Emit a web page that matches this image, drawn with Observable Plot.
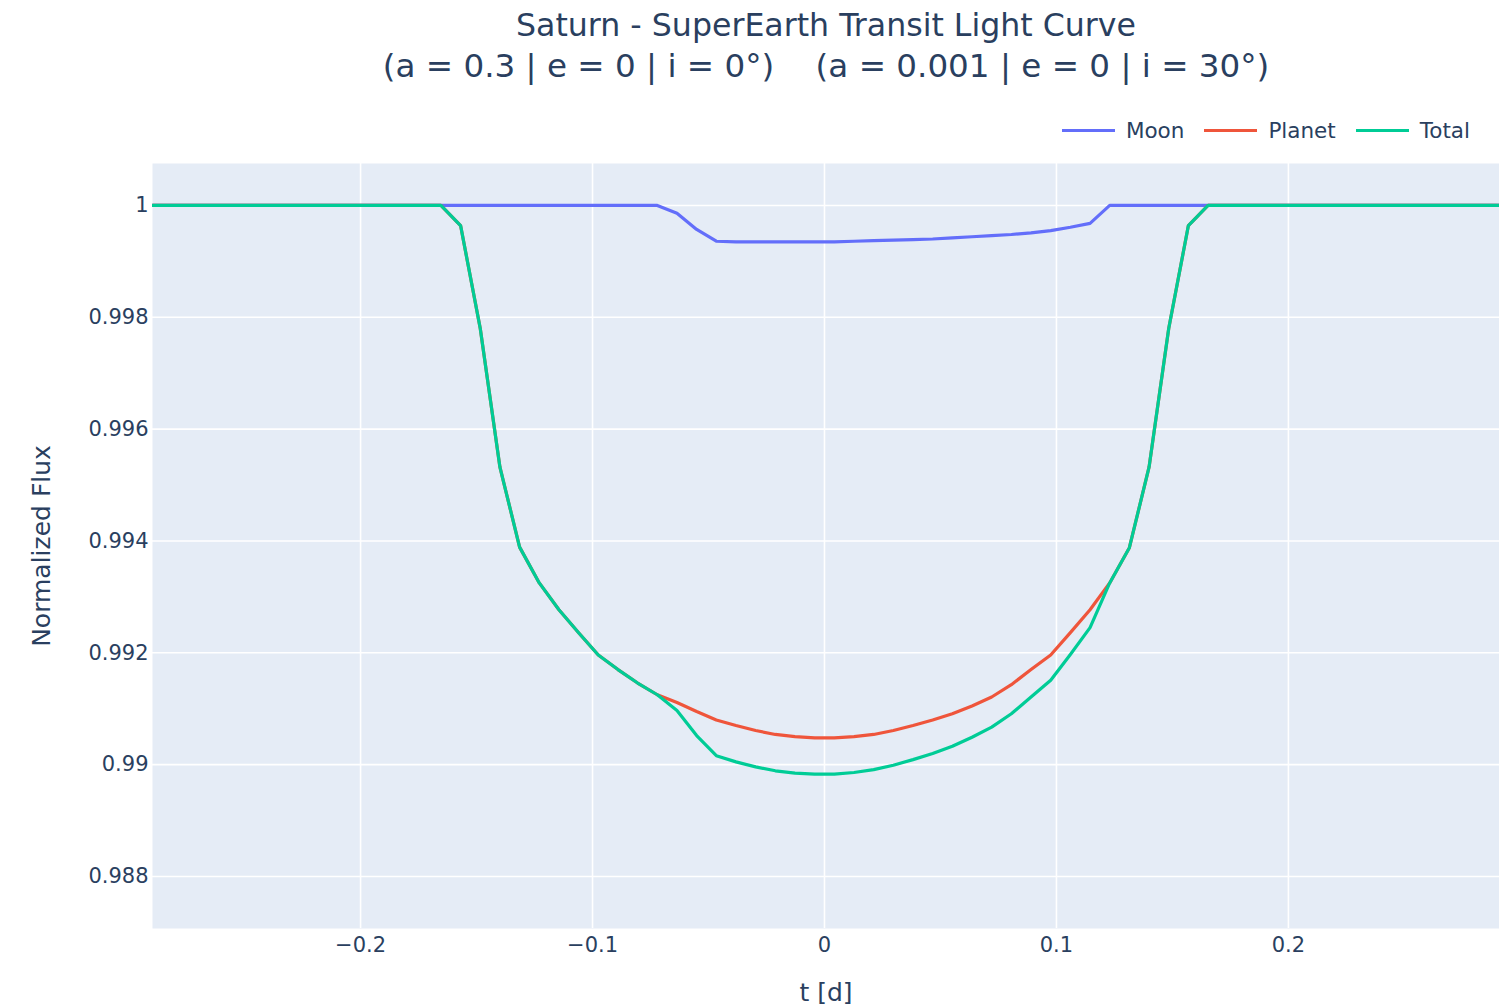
<!DOCTYPE html>
<html>
<head>
<meta charset="utf-8">
<script src="https://cdn.jsdelivr.net/npm/d3@7"></script>
<script src="https://cdn.jsdelivr.net/npm/@observablehq/plot@0.6"></script>
<style>
  html, body { margin: 0; padding: 0; background: #ffffff; }
  body { width: 1499px; height: 1007px; overflow: hidden; font-family: "DejaVu Sans", Verdana, sans-serif; color: #2a3f5f; }
  #head { position: relative; width: 1499px; height: 150px; }
  .tline { position: absolute; left: 0; width: 1652px; text-align: center; white-space: pre; }
  #legend { position: absolute; top: 120px; right: 29px; display: flex; align-items: center; font-size: 21.5px; line-height: 21px; }
  .item { display: flex; align-items: center; margin-left: 20px; }
  .sw { width: 53px; height: 3px; margin-right: 11px; }
</style>
</head>
<body>
<div id="head">
  <div class="tline" id="t1" style="top:10px; font-size:31.6px; line-height:31px"></div>
  <div class="tline" id="t2" style="top:50px; font-size:32.6px; line-height:32px"></div>
  <div id="legend"></div>
</div>
<div id="chart"></div>
<script>
// ---- data ----
const TITLE_1 = "Saturn - SuperEarth Transit Light Curve";
const TITLE_2 = "(a = 0.3 | e = 0 | i = 0°)    (a = 0.001 | e = 0 | i = 30°)";
const X_LABEL = "t [d]";
const Y_LABEL = "Normalized Flux";

const SERIES = ["Moon", "Planet", "Total"];
const COLORS = ["#636efa", "#EF553B", "#00cc96"];

const T = [-0.2897, -0.16536, -0.15688, -0.14840, -0.13992, -0.13144, -0.12296, -0.11448, -0.10600, -0.09752,
  -0.08904, -0.08056, -0.07208, -0.06360, -0.05512, -0.04664, -0.03816, -0.02968, -0.02120, -0.01272, -0.00424,
  0.00424, 0.01272, 0.02120, 0.02968, 0.03816, 0.04664, 0.05512, 0.06360, 0.07208, 0.08056,
  0.08904, 0.09752, 0.10600, 0.11448, 0.12296, 0.13144, 0.13992, 0.14840, 0.15688, 0.16536, 0.291];

const MOON = [1, 1, 1, 1, 1, 1, 1, 1, 1, 1, 1, 1, 1,
  0.99986, 0.99957, 0.99936, 0.99935, 0.99935, 0.99935, 0.99935, 0.99935,
  0.99935, 0.99936, 0.99937, 0.99938, 0.99939, 0.99940, 0.99942, 0.99944, 0.99946, 0.99948,
  0.99951, 0.99955, 0.99961, 0.99968, 1, 1, 1, 1, 1, 1, 1];

const PLANET = [1, 1.0, 0.99964, 0.99780, 0.99532, 0.99389, 0.99325, 0.99277, 0.99236, 0.99196,
  0.99170, 0.99146, 0.99125, 0.99111, 0.99095, 0.99080, 0.99070, 0.99061, 0.99054, 0.99050, 0.99048,
  0.99048, 0.99050, 0.99054, 0.99061, 0.99070, 0.99080, 0.99091, 0.99105, 0.99121, 0.99143,
  0.99170, 0.99196, 0.99236, 0.99277, 0.99325, 0.99388, 0.99532, 0.99780, 0.99964, 1.0, 1];

const TOTAL = [1, 1.0, 0.99964, 0.99780, 0.99532, 0.99389, 0.99325, 0.99277, 0.99236, 0.99196,
  0.99170, 0.99146, 0.99125, 0.99097, 0.99052, 0.99016, 0.99005, 0.98996, 0.98989, 0.98985, 0.98983,
  0.98983, 0.98986, 0.98991, 0.98999, 0.99009, 0.99020, 0.99033, 0.99049, 0.99067, 0.99091,
  0.99121, 0.99151, 0.99197, 0.99245, 0.99325, 0.99388, 0.99532, 0.99780, 0.99964, 1.0, 1];

const X_TICKS = [-0.2, -0.1, 0, 0.1, 0.2];
const X_TICK_LABELS = ["−0.2", "−0.1", "0", "0.1", "0.2"];
const Y_TICKS = [0.988, 0.990, 0.992, 0.994, 0.996, 0.998, 1.0];
const Y_TICK_LABELS = ["0.988", "0.99", "0.992", "0.994", "0.996", "0.998", "1"];
const X_DOMAIN = [-0.2897, 0.291];
const Y_DOMAIN = [0.98707, 1.00075];

// ---- titles & legend ----
document.getElementById("t1").textContent = TITLE_1;
document.getElementById("t2").textContent = TITLE_2;
const leg = document.getElementById("legend");
SERIES.forEach((s, i) => {
  const it = document.createElement("div"); it.className = "item";
  const sw = document.createElement("div"); sw.className = "sw"; sw.style.background = COLORS[i];
  const tx = document.createElement("span"); tx.textContent = s;
  it.appendChild(sw); it.appendChild(tx); leg.appendChild(it);
});

// ---- data table ----
const VALUES = [MOON, PLANET, TOTAL];
const rows = [];
SERIES.forEach((s, si) => T.forEach((t, i) => rows.push({series: s, t, flux: VALUES[si][i]})));

const chart = Plot.plot({
  width: 1499,
  height: 857,
  marginLeft: 152,
  marginRight: 0,
  marginTop: 13,
  marginBottom: 79,
  style: {fontFamily: "DejaVu Sans, Verdana, sans-serif", color: "#2a3f5f", background: "transparent"},
  x: {domain: X_DOMAIN, label: null},
  y: {domain: Y_DOMAIN, label: null},
  color: {domain: SERIES, range: COLORS},
  marks: [
    Plot.frame({fill: "#E5ECF6", stroke: null}),
    Plot.gridX(X_TICKS, {stroke: "white", strokeOpacity: 1, strokeWidth: 1.6}),
    Plot.gridY(Y_TICKS, {stroke: "white", strokeOpacity: 1, strokeWidth: 1.6}),
    Plot.axisX(X_TICKS, {tickSize: 0, tickPadding: 9, fontSize: 21, tickFormat: (d) => X_TICK_LABELS[X_TICKS.indexOf(d)], label: null}),
    Plot.axisY(Y_TICKS, {tickSize: 0, tickPadding: 4, fontSize: 21, tickFormat: (d) => Y_TICK_LABELS[Y_TICKS.indexOf(d)], label: null}),
    ...SERIES.map(s => Plot.line(rows.filter(r => r.series === s), {x: "t", y: "flux", stroke: "series", strokeWidth: 3.2, clip: true})),
    Plot.text([X_LABEL], {frameAnchor: "bottom", dy: 64, fontSize: 25, textAnchor: "middle", lineAnchor: "middle", fill: "#2a3f5f"}),
    Plot.text([Y_LABEL], {frameAnchor: "left", dx: -111, rotate: -90, fontSize: 25, textAnchor: "middle", lineAnchor: "middle", fill: "#2a3f5f"})
  ]
});
document.getElementById("chart").appendChild(chart);
</script>
</body>
</html>
